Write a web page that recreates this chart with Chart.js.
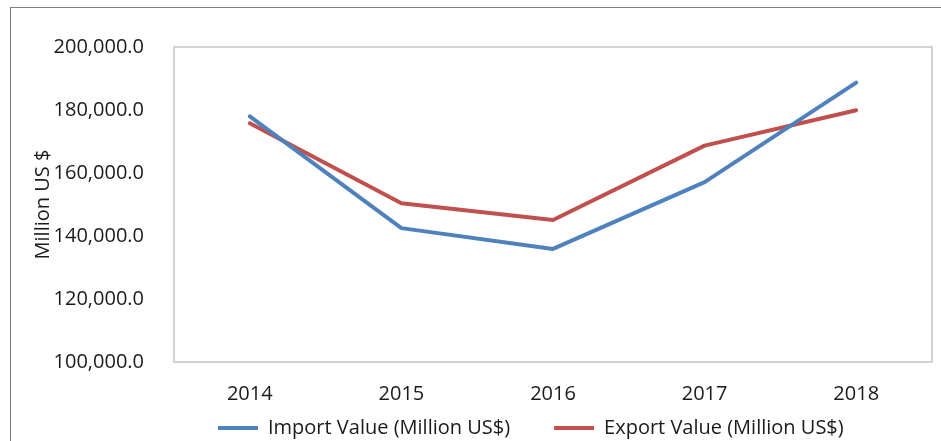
<!DOCTYPE html>
<html>
<head>
<meta charset="utf-8">
<script src="https://cdn.jsdelivr.net/npm/chart.js@4.4.1/dist/chart.umd.min.js"></script>
<style>
  html, body { margin: 0; padding: 0; background: #fff; overflow: hidden; }
  #wrap { position: relative; width: 941px; height: 441px; }
  #frame {
    position: absolute; left: 10px; top: 7px; right: -10px; bottom: -10px;
    border-left: 1.5px solid #808080; border-top: 1.5px solid #808080;
    pointer-events: none;
  }
</style>
</head>
<body>
<div id="wrap">
  <canvas id="chart" width="941" height="441"></canvas>
  <div id="frame"></div>
</div>
<script>
const years = ['2014', '2015', '2016', '2017', '2018'];
const importValues = [178000, 142500, 135900, 157100, 188700];
const exportValues = [175800, 150400, 145100, 168700, 179900];
const yMin = 100000;
const yMax = 200000;
const yStep = 20000;

const FONT = "'Open Sans', sans-serif";
const TEXT = '#1a1a1a';
const BLUE = '#4F81BD';
const RED = '#C0504D';
const PAD_LEFT = 31;
const LEGEND_SHIFT = 28; // legend padding doubles as item gap, so pull the box up a bit

// light grey box round the plot area
const plotFrame = {
    id: 'plotFrame',
    beforeDatasetsDraw(chart) {
        const a = chart.chartArea;
        const ctx = chart.ctx;
        ctx.save();
        ctx.strokeStyle = '#c4c4c4';
        ctx.lineWidth = 1.5;
        ctx.strokeRect(a.left, a.top, a.right - a.left, a.bottom - a.top);
        ctx.restore();
    }
};

const legendNudge = {
    id: 'legendNudge',
    afterLayout(chart) {
        chart.legend.top -= LEGEND_SHIFT;
        chart.legend.bottom -= LEGEND_SHIFT;
    }
};

const ctx = document.getElementById('chart').getContext('2d');
new Chart(ctx, {
    type: 'line',
    data: {
        labels: years,
        datasets: [
            {
                label: 'Import Value (Million US$)',
                data: importValues,
                borderColor: BLUE,
                backgroundColor: BLUE,
                borderWidth: 4,
                pointRadius: 0,
                tension: 0,
                borderCapStyle: 'round',
                borderJoinStyle: 'round'
            },
            {
                label: 'Export Value (Million US$)',
                data: exportValues,
                borderColor: RED,
                backgroundColor: RED,
                borderWidth: 4,
                pointRadius: 0,
                tension: 0,
                borderCapStyle: 'round',
                borderJoinStyle: 'round'
            }
        ]
    },
    options: {
        responsive: false,
        animation: false,
        layout: {
            padding: {left: PAD_LEFT, right: 9, top: 47, bottom: -35}
        },
        plugins: {
            tooltip: {enabled: false},
            legend: {
                position: 'bottom',
                fullSize: false,
                align: 'start',
                labels: {
                    font: {family: FONT, size: 20},
                    color: TEXT,
                    boxWidth: 40,
                    boxHeight: 4,
                    padding: 44,
                    generateLabels(chart) {
                        return Chart.defaults.plugins.legend.labels.generateLabels(chart).map(item => {
                            item.fillStyle = item.strokeStyle;
                            item.lineWidth = 0;
                            return item;
                        });
                    }
                }
            }
        },
        scales: {
            x: {
                offset: true,
                grid: {display: false},
                border: {display: false},
                ticks: {
                    font: {family: FONT, size: 20},
                    color: TEXT,
                    padding: 12
                },
                afterFit(scale) {
                    scale.height = 40;
                }
            },
            y: {
                min: yMin,
                max: yMax,
                grid: {display: false},
                border: {display: false},
                ticks: {
                    stepSize: yStep,
                    font: {family: FONT, size: 20},
                    color: TEXT,
                    padding: 22,
                    callback: v => v.toLocaleString('en-US', {minimumFractionDigits: 1, maximumFractionDigits: 1})
                },
                title: {
                    display: true,
                    text: 'Million US $',
                    font: {family: FONT, size: 20},
                    color: TEXT,
                    padding: {top: 0, bottom: 6}
                },
                afterFit(scale) {
                    scale.width = 174 - PAD_LEFT;
                }
            }
        }
    },
    plugins: [plotFrame, legendNudge]
});
</script>
</body>
</html>
